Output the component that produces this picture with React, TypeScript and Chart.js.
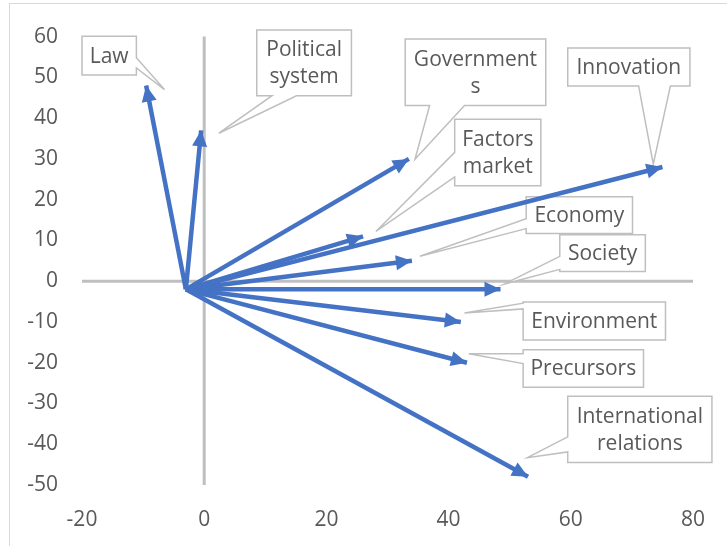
import React, { useEffect, useRef } from "react";
import { Chart, registerables } from "chart.js";

Chart.register(...registerables);

// ---- data ----
const categories = [
  "Law",
  "Political system",
  "Governments",
  "Innovation",
  "Factors market",
  "Economy",
  "Society",
  "Environment",
  "Precursors",
  "International relations",
];
const labelLines = [
  ["Law"],
  ["Political", "system"],
  ["Government", "s"],
  ["Innovation"],
  ["Factors", "market"],
  ["Economy"],
  ["Society"],
  ["Environment"],
  ["Precursors"],
  ["International", "relations"],
];
const originX = -3;
const originY = -2;
const xValues = [-9.5, -0.5, 33.5, 75, 26, 34, 48.5, 42, 43, 53];
const yValues = [48, 37, 30, 28, 11, 5, -2, -10, -20, -48];
const xTickValues = [-20, 0, 20, 40, 60, 80];
const yTickValues = [-50, -40, -30, -20, -10, 0, 10, 20, 30, 40, 50, 60];

// ---- callout layout (data units): box [left, top, right, bottom], wedge side, wedge base range, wedge tip ----
const calloutBoxes = [
  [-20.0, 60.1, -11.1, 50.6],
  [8.6, 61.6, 24.1, 45.5],
  [32.9, 59.4, 55.9, 43.1],
  [59.5, 57.2, 79.5, 47.9],
  [41.0, 39.7, 55.1, 23.4],
  [52.7, 20.7, 70.1, 11.7],
  [58.2, 11.4, 72.2, 2.4],
  [52.2, -5.1, 75.5, -14.4],
  [52.2, -16.8, 71.9, -26.0],
  [59.5, -28.2, 83.1, -44.5],
];
const calloutSides = ["right", "bottom", "bottom", "bottom", "left", "left", "left", "left", "left", "left"];
const calloutBases = [
  [54.8, 52.3],
  [11.1, 15.1],
  [36.9, 42.6],
  [71.1, 76.3],
  [31.6, 25.6],
  [15.3, 12.9],
  [6.1, 2.9],
  [-5.4, -6.8],
  [-17.8, -20.2],
  [-38.2, -41.9],
];
const calloutTips = [
  [-6.5, 47.0],
  [2.4, 36.3],
  [34.5, 29.9],
  [73.5, 28.7],
  [28.1, 12.2],
  [35.3, 6.1],
  [49.1, -0.7],
  [42.6, -7.8],
  [43.3, -17.8],
  [52.9, -43.3],
];

const FONT = "'Open Sans', 'Noto Sans', sans-serif";
const TEXT_COLOR = "#595959";
const AXIS_COLOR = "#bfbfbf";
const BLUE = "#4472C4";

const decorPlugin = {
  id: "decor",
  beforeDraw(chart: any) {
    const { ctx, width, height } = chart;
    ctx.save();
    ctx.fillStyle = "#ffffff";
    ctx.fillRect(0, 0, width, height);
    ctx.strokeStyle = "#d9d9d9";
    ctx.lineWidth = 1;
    ctx.strokeRect(9.5, 3.5, width + 20, height + 20);
    ctx.restore();
  },
  beforeDatasetsDraw(chart: any) {
    const { ctx } = chart;
    const xs = chart.scales.x;
    const ys = chart.scales.y;
    ctx.save();
    // axis cross lines
    ctx.strokeStyle = AXIS_COLOR;
    ctx.lineWidth = 3;
    ctx.beginPath();
    ctx.moveTo(xs.getPixelForValue(xs.min), ys.getPixelForValue(0));
    ctx.lineTo(xs.getPixelForValue(xs.max), ys.getPixelForValue(0));
    ctx.stroke();
    ctx.beginPath();
    ctx.moveTo(xs.getPixelForValue(0), ys.getPixelForValue(ys.max));
    ctx.lineTo(xs.getPixelForValue(0), ys.getPixelForValue(ys.min));
    ctx.stroke();

    // callouts
    for (let i = 0; i < categories.length; i++) {
      const [bl, bt, br, bb] = calloutBoxes[i];
      const l = xs.getPixelForValue(bl);
      const r = xs.getPixelForValue(br);
      const t = ys.getPixelForValue(bt);
      const b = ys.getPixelForValue(bb);
      const side = calloutSides[i];
      const [ba, bz] = calloutBases[i];
      const tip = [xs.getPixelForValue(calloutTips[i][0]), ys.getPixelForValue(calloutTips[i][1])];
      ctx.beginPath();
      ctx.moveTo(l, t);
      ctx.lineTo(r, t);
      if (side === "right") {
        const p1 = ys.getPixelForValue(ba);
        const p2 = ys.getPixelForValue(bz);
        ctx.lineTo(r, Math.min(p1, p2));
        ctx.lineTo(tip[0], tip[1]);
        ctx.lineTo(r, Math.max(p1, p2));
      }
      ctx.lineTo(r, b);
      if (side === "bottom") {
        const p1 = xs.getPixelForValue(ba);
        const p2 = xs.getPixelForValue(bz);
        ctx.lineTo(Math.max(p1, p2), b);
        ctx.lineTo(tip[0], tip[1]);
        ctx.lineTo(Math.min(p1, p2), b);
      }
      ctx.lineTo(l, b);
      if (side === "left") {
        const p1 = ys.getPixelForValue(ba);
        const p2 = ys.getPixelForValue(bz);
        ctx.lineTo(l, Math.max(p1, p2));
        ctx.lineTo(tip[0], tip[1]);
        ctx.lineTo(l, Math.min(p1, p2));
      }
      ctx.closePath();
      ctx.fillStyle = "#ffffff";
      ctx.fill();
      ctx.strokeStyle = AXIS_COLOR;
      ctx.lineWidth = 1.5;
      ctx.lineJoin = "miter";
      ctx.stroke();

      const lines = labelLines[i];
      const cx = (l + r) / 2;
      const cy = (t + b) / 2 + 1;
      const lh = 27;
      ctx.fillStyle = TEXT_COLOR;
      ctx.font = `21px ${FONT}`;
      ctx.textAlign = "center";
      ctx.textBaseline = "middle";
      lines.forEach((ln, k) => {
        ctx.fillText(ln, cx, cy + (k - (lines.length - 1) / 2) * lh);
      });
    }
    ctx.restore();
  },
  afterDatasetsDraw(chart: any) {
    const { ctx } = chart;
    ctx.save();
    ctx.fillStyle = BLUE;
    chart.data.datasets.forEach((_: any, i: number) => {
      const meta = chart.getDatasetMeta(i);
      const p0 = meta.data[0];
      const p1 = meta.data[meta.data.length - 1];
      const ang = Math.atan2(p1.y - p0.y, p1.x - p0.x);
      const len = 16;
      const hw = 7.5;
      const bx = p1.x - len * Math.cos(ang);
      const by = p1.y - len * Math.sin(ang);
      ctx.beginPath();
      ctx.moveTo(p1.x, p1.y);
      ctx.lineTo(bx + hw * Math.sin(ang), by - hw * Math.cos(ang));
      ctx.lineTo(bx - hw * Math.sin(ang), by + hw * Math.cos(ang));
      ctx.closePath();
      ctx.fill();
    });
    ctx.restore();
  },
};

export default function App() {
  const ref = useRef<HTMLCanvasElement | null>(null);
  useEffect(() => {
    if (!ref.current) return;
    const datasets = categories.map((name, i) => ({
      label: name,
      data: [
        { x: originX, y: originY },
        { x: xValues[i], y: yValues[i] },
      ],
      showLine: true,
      borderColor: BLUE,
      backgroundColor: BLUE,
      borderWidth: 4.5,
      pointRadius: 0,
      pointHoverRadius: 0,
      clip: false as any,
    }));
    const chart = new Chart(ref.current, {
      type: "scatter",
      data: { datasets },
      plugins: [decorPlugin],
      options: {
        animation: false,
        responsive: false,
        devicePixelRatio: 1,
        layout: { padding: { left: 10, right: 30, top: 33, bottom: 11 } },
        plugins: { legend: { display: false }, tooltip: { enabled: false }, title: { display: false } },
        scales: {
          x: {
            type: "linear",
            min: -20,
            max: 80,
            afterBuildTicks: (s: any) => {
              s.ticks = xTickValues.map((v) => ({ value: v }));
            },
            afterFit: (s: any) => {
              s.height = 50;
            },
            grid: { display: false, drawTicks: false },
            border: { display: false },
            ticks: { color: TEXT_COLOR, font: { family: FONT, size: 21 }, padding: 22, maxRotation: 0 },
          },
          y: {
            type: "linear",
            min: -50,
            max: 60,
            afterBuildTicks: (s: any) => {
              s.ticks = yTickValues.map((v) => ({ value: v }));
            },
            afterFit: (s: any) => {
              s.width = 72;
            },
            grid: { display: false, drawTicks: false },
            border: { display: false },
            ticks: { color: TEXT_COLOR, font: { family: FONT, size: 21 }, padding: 24 },
          },
        },
      },
    });
    return () => chart.destroy();
  }, []);
  return (
    <div style={{ position: "absolute", left: 0, top: 0, width: 727, height: 546, background: "#fff" }}>
      <canvas ref={ref} width={727} height={546} style={{ display: "block" }} />
    </div>
  );
}
